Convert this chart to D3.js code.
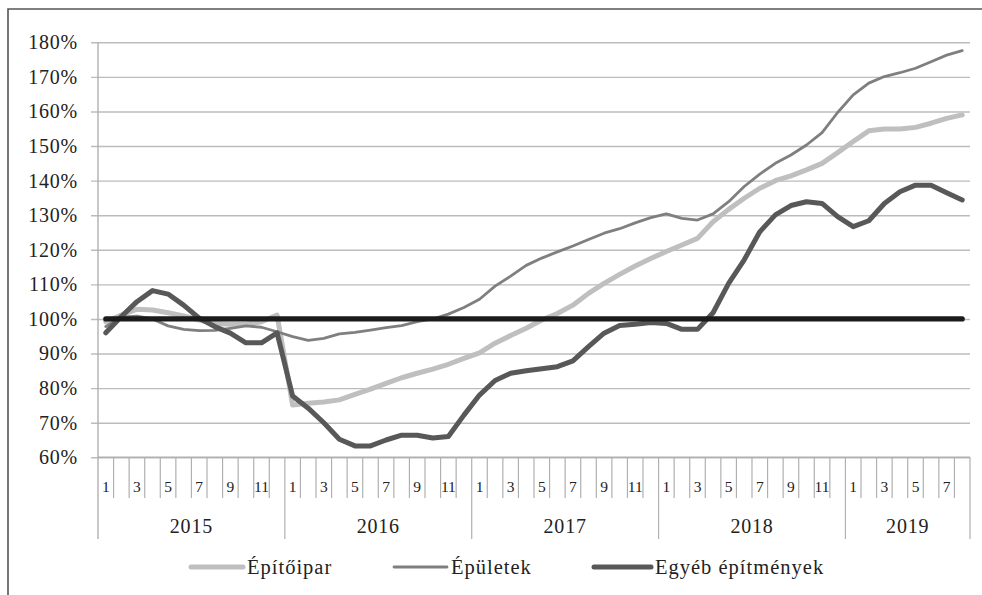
<!DOCTYPE html>
<html>
<head>
<meta charset="utf-8">
<script src="https://cdn.jsdelivr.net/npm/d3@7"></script>
<style>
  html, body { margin: 0; padding: 0; background: #fff; }
  svg { display: block; }
  svg text { font-family: "Liberation Serif", "DejaVu Serif", serif; }
</style>
</head>
<body>
<svg id="chart" width="982" height="595"></svg>
<script>
// ---------------------------------------------------------------------------
// Data
// ---------------------------------------------------------------------------
const years = [2015, 2016, 2017, 2018, 2019];
const monthsInYear = [12, 12, 12, 12, 8];
const yTicks = [60, 70, 80, 90, 100, 110, 120, 130, 140, 150, 160, 170, 180];

const seriesNames = ["Építőipar", "Épületek", "Egyéb építmények"];

const epitoipar = [
  99.2, 101.1, 102.8, 102.6, 101.8, 100.9, 99.7, 98.7, 98.5, 98.5, 99.2, 101.1,
  75.1, 75.6, 76.0, 76.6, 78.2, 79.7, 81.4, 83.0, 84.3, 85.5, 86.9, 88.6,
  90.2, 93.0, 95.2, 97.3, 99.7, 101.6, 104.0, 107.4, 110.3, 112.9, 115.3, 117.5,
  119.5, 121.4, 123.3, 128.1, 131.7, 134.9, 137.8, 140.0, 141.4, 143.1, 145.0, 148.1,
  151.3, 154.4, 154.9, 154.9, 155.4, 156.6, 158.0, 159.0
];
const epuletek = [
  97.8, 100.5, 100.8, 100.0, 98.0, 97.0, 96.6, 96.7, 97.3, 98.0, 97.6, 96.3,
  94.9, 93.8, 94.4, 95.7, 96.1, 96.8, 97.5, 98.1, 99.2, 100.0, 101.4, 103.3,
  105.7, 109.5, 112.4, 115.5, 117.6, 119.4, 121.1, 123.0, 124.8, 126.1, 127.8, 129.3,
  130.4, 129.1, 128.6, 130.4, 133.9, 138.3, 141.9, 145.0, 147.4, 150.3, 153.9, 159.7,
  164.8, 168.2, 170.1, 171.2, 172.5, 174.4, 176.3, 177.6
];
const egyeb = [
  96.0, 100.7, 105.0, 108.2, 107.2, 104.0, 100.2, 97.8, 95.9, 93.1, 93.1, 96.0,
  77.7, 74.2, 70.0, 65.2, 63.3, 63.3, 65.0, 66.4, 66.4, 65.6, 66.0, 72.2,
  78.0, 82.2, 84.3, 85.0, 85.6, 86.2, 87.9, 92.0, 95.9, 98.1, 98.5, 99.0,
  98.7, 97.0, 97.0, 101.8, 110.3, 117.1, 125.2, 130.1, 132.8, 133.9, 133.4, 129.6,
  126.7, 128.4, 133.4, 136.8, 138.7, 138.7, 136.5, 134.4
];
const baseline = 100;

// ---------------------------------------------------------------------------
// Layout
// ---------------------------------------------------------------------------
const svg = d3.select("#chart");
const plot = {left: 98, right: 970, top: 42.3, bottom: 457.3};
const monthTickBottom = 498, yearTickBottom = 539;
const serif = "'Liberation Serif', 'DejaVu Serif', serif";

// categories: one entry per month
const categories = [];
years.forEach((yr, yi) => {
  for (let m = 1; m <= monthsInYear[yi]; m++) categories.push({key: yr + "-" + m, year: yr, month: m});
});

const x = d3.scaleBand().domain(categories.map(d => d.key)).range([plot.left, plot.right]).padding(0);
const y = d3.scaleLinear().domain([60, 180]).range([plot.bottom, plot.top]);
const xc = k => x(k) + x.bandwidth() / 2;

// outer frame (cut off by the picture edge on the right and bottom)
svg.append("path")
  .attr("d", "M8,600 L8,9 L990,9")
  .attr("fill", "none").attr("stroke", "#555").attr("stroke-width", 1.6);

// ---------------------------------------------------------------------------
// Y axis + gridlines
// ---------------------------------------------------------------------------
const yAxis = d3.axisLeft(y)
  .tickValues(yTicks)
  .tickSize(plot.right - plot.left + 7)
  .tickPadding(13)
  .tickFormat(d => d + "%");

const gy = svg.append("g")
  .attr("transform", "translate(" + plot.right + ",0)")
  .call(yAxis);
gy.attr("font-family", serif).attr("font-size", 20);
gy.select(".domain").remove();
gy.selectAll(".tick line").attr("stroke", "#bcbcbc").attr("stroke-width", 1.4);
gy.selectAll(".tick text")
  .attr("fill", "#222")
  .style("font-family", serif)
  .style("font-size", "20px")
  .style("letter-spacing", "0.8px");

svg.append("line")
  .attr("x1", plot.left).attr("x2", plot.left)
  .attr("y1", plot.top).attr("y2", yearTickBottom)
  .attr("stroke", "#b0b0b0").attr("stroke-width", 1.4);

// ---------------------------------------------------------------------------
// Category axis (months + years)
// ---------------------------------------------------------------------------
const gx = svg.append("g").attr("class", "xaxis");
gx.append("line")
  .attr("x1", plot.left).attr("x2", plot.right)
  .attr("y1", plot.bottom).attr("y2", plot.bottom)
  .attr("stroke", "#b0b0b0").attr("stroke-width", 1.4);

// a tick on the right edge of each month
gx.selectAll(".mtick")
  .data(categories)
  .enter().append("line")
  .attr("class", "mtick")
  .attr("x1", d => x(d.key) + x.bandwidth())
  .attr("x2", d => x(d.key) + x.bandwidth())
  .attr("y1", plot.bottom)
  .attr("y2", (d, i) => (i === categories.length - 1 || d.month === 12) ? yearTickBottom : monthTickBottom)
  .attr("stroke", "#b0b0b0").attr("stroke-width", 1.2);

gx.selectAll(".mlabel")
  .data(categories.filter(d => d.month % 2 === 1))
  .enter().append("text")
  .attr("class", "mlabel")
  .attr("x", d => xc(d.key))
  .attr("y", 492)
  .attr("text-anchor", "middle")
  .attr("fill", "#222")
  .style("font-family", serif)
  .style("font-size", "15.5px")
  .text(d => d.month);

gx.selectAll(".ylabel")
  .data(years)
  .enter().append("text")
  .attr("class", "ylabel")
  .attr("x", (d, i) => {
    const ks = categories.filter(c => c.year === d);
    return (x(ks[0].key) + x(ks[ks.length - 1].key) + x.bandwidth()) / 2;
  })
  .attr("y", 533)
  .attr("text-anchor", "middle")
  .attr("fill", "#222")
  .style("font-family", serif)
  .style("font-size", "20px")
  .style("letter-spacing", "0.8px")
  .text(d => d);

// ---------------------------------------------------------------------------
// Lines
// ---------------------------------------------------------------------------
const line = d3.line()
  .x((d, i) => xc(categories[i].key))
  .y(d => y(d));

const series = [
  {name: seriesNames[0], values: epitoipar, color: "#bfbfc1", width: 5},
  {name: seriesNames[1], values: epuletek, color: "#7f7f7f", width: 2.8},
  {name: seriesNames[2], values: egyeb, color: "#585858", width: 5},
  {name: null, values: categories.map(() => baseline), color: "#1c1a1b", width: 5.2}
];

svg.append("g").selectAll("path")
  .data(series)
  .enter().append("path")
  .attr("d", d => line(d.values))
  .attr("fill", "none")
  .attr("stroke", d => d.color)
  .attr("stroke-width", d => d.width)
  .attr("stroke-linejoin", "round")
  .attr("stroke-linecap", "round");

// ---------------------------------------------------------------------------
// Legend
// ---------------------------------------------------------------------------
const legendY = 567;
const legendPos = [{x0: 191, x1: 243}, {x0: 394, x1: 447}, {x0: 594, x1: 651}];
const lg = svg.append("g").selectAll("g")
  .data(series.slice(0, 3))
  .enter().append("g");
lg.append("line")
  .attr("x1", (d, i) => legendPos[i].x0).attr("x2", (d, i) => legendPos[i].x1)
  .attr("y1", legendY).attr("y2", legendY)
  .attr("stroke", d => d.color)
  .attr("stroke-width", d => d.width)
  .attr("stroke-linecap", "round");
lg.append("text")
  .attr("x", (d, i) => legendPos[i].x1 + 4)
  .attr("y", legendY + 6.5)
  .attr("fill", "#222")
  .style("font-family", serif)
  .style("font-size", "20.5px")
  .style("letter-spacing", "1px")
  .text(d => d.name);
</script>
</body>
</html>
